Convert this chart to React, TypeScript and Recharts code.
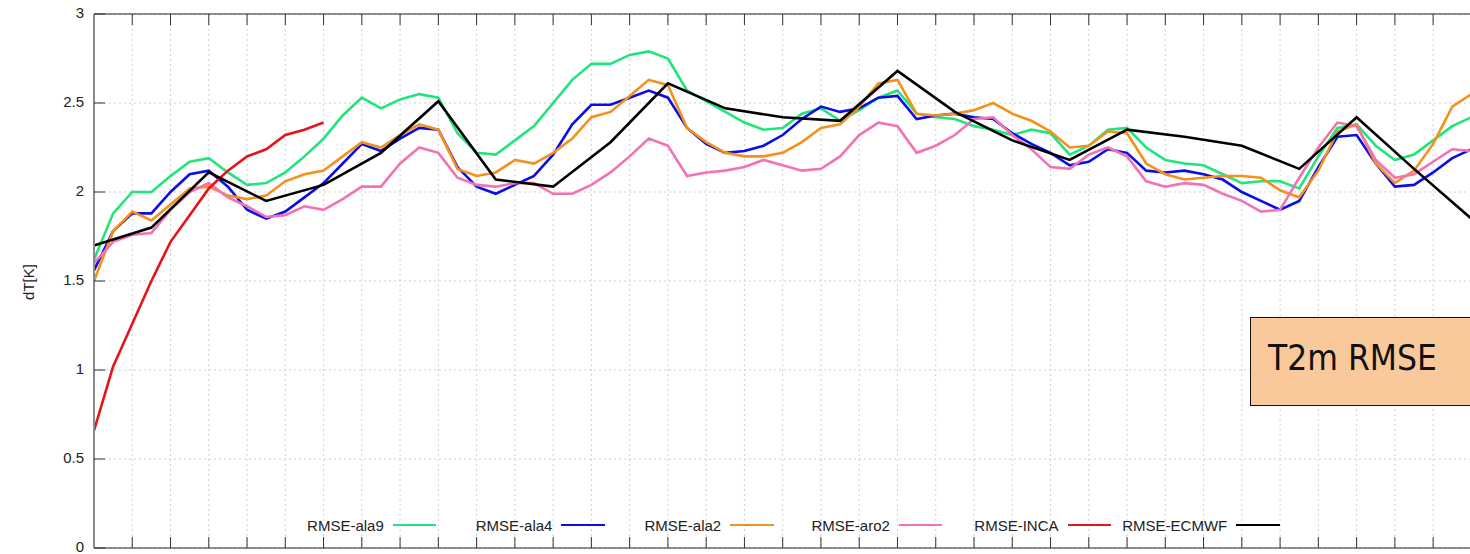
import { LineChart, Line, XAxis, YAxis, CartesianGrid } from "recharts";

// forecast lead time in hours (x categories, labels not shown in the picture)
const hours = [
  0, 1, 2, 3, 4, 5, 6, 7, 8, 9, 10, 11, 12, 13, 14, 15, 16, 17, 18, 19, 20, 21, 22, 23, 24,
  25, 26, 27, 28, 29, 30, 31, 32, 33, 34, 35, 36, 37, 38, 39, 40, 41, 42, 43, 44, 45, 46, 47, 48,
  49, 50, 51, 52, 53, 54, 55, 56, 57, 58, 59, 60, 61, 62, 63, 64, 65, 66, 67, 68, 69, 70, 71, 72,
];

const yTicks = [0, 0.5, 1, 1.5, 2, 2.5, 3];

// hourly RMSE values
const ala9 = [
  1.62, 1.88, 2.0, 2.0, 2.09, 2.17, 2.19, 2.11, 2.04, 2.05, 2.11, 2.2, 2.3, 2.43, 2.53, 2.47, 2.52,
  2.55, 2.53, 2.33, 2.22, 2.21, 2.29, 2.37, 2.5, 2.63, 2.72, 2.72, 2.77, 2.79, 2.75, 2.57, 2.51,
  2.45, 2.39, 2.35, 2.36, 2.44, 2.47, 2.4, 2.46, 2.53, 2.57, 2.44, 2.42, 2.41, 2.37, 2.35, 2.32,
  2.35, 2.33, 2.21, 2.26, 2.35, 2.36, 2.25, 2.18, 2.16, 2.15, 2.1, 2.05, 2.06, 2.06, 2.02, 2.2,
  2.36, 2.38, 2.26, 2.18, 2.21, 2.29, 2.37, 2.42,
];

const ala4 = [
  1.56, 1.78, 1.88, 1.88, 2.0, 2.1, 2.12, 2.03, 1.9, 1.85, 1.89, 1.97, 2.05, 2.16, 2.27, 2.23, 2.3,
  2.36, 2.35, 2.14, 2.03, 1.99, 2.04, 2.09, 2.21, 2.38, 2.49, 2.49, 2.53, 2.57, 2.53, 2.36, 2.27,
  2.22, 2.23, 2.26, 2.32, 2.41, 2.48, 2.45, 2.47, 2.53, 2.54, 2.41, 2.43, 2.44, 2.42, 2.41, 2.33,
  2.27, 2.22, 2.15, 2.17, 2.24, 2.22, 2.12, 2.11, 2.12, 2.1, 2.07, 2.0, 1.95, 1.9, 1.95, 2.14,
  2.31, 2.32, 2.16, 2.03, 2.04, 2.11, 2.19, 2.24,
];

const ala2 = [
  1.5, 1.78, 1.89, 1.84, 1.93, 2.02, 2.03, 1.98, 1.96, 1.98, 2.06, 2.1, 2.12, 2.2, 2.28, 2.25, 2.32,
  2.38, 2.35, 2.13, 2.09, 2.11, 2.18, 2.16, 2.22, 2.3, 2.42, 2.45, 2.54, 2.63, 2.6, 2.36, 2.28,
  2.22, 2.2, 2.2, 2.22, 2.28, 2.36, 2.38, 2.48, 2.61, 2.63, 2.44, 2.43, 2.44, 2.46, 2.5, 2.44,
  2.4, 2.34, 2.25, 2.26, 2.34, 2.33, 2.16, 2.1, 2.07, 2.08, 2.09, 2.09, 2.08, 2.01, 1.97, 2.12,
  2.34, 2.38, 2.16, 2.05, 2.12, 2.27, 2.48, 2.55,
];

const aro2 = [
  1.6, 1.72, 1.76, 1.77, 1.9, 2.0, 2.05, 1.97, 1.92, 1.86, 1.87, 1.92, 1.9, 1.96, 2.03, 2.03, 2.16,
  2.25, 2.22, 2.08, 2.04, 2.03, 2.05, 2.05, 1.99, 1.99, 2.04, 2.11, 2.2, 2.3, 2.26, 2.09, 2.11,
  2.12, 2.14, 2.18, 2.15, 2.12, 2.13, 2.2, 2.32, 2.39, 2.37, 2.22, 2.26, 2.32, 2.41, 2.42, 2.32,
  2.24, 2.14, 2.13, 2.21, 2.25, 2.2, 2.06, 2.03, 2.05, 2.04, 1.99, 1.95, 1.89, 1.9, 2.08, 2.25,
  2.39, 2.37, 2.18, 2.08, 2.1, 2.17, 2.24, 2.23,
];

// INCA nowcast, first 12 hours only
const inca = [0.66, 1.02, 1.26, 1.5, 1.72, 1.87, 2.02, 2.12, 2.2, 2.24, 2.32, 2.35, 2.39];

// ECMWF, 3-hourly (0, 3, 6, ... 72)
const ecmwf = [
  1.7, 1.8, 2.11, 1.95, 2.04, 2.22, 2.51, 2.07, 2.03, 2.28, 2.61, 2.47, 2.42, 2.4, 2.68, 2.45,
  2.29, 2.18, 2.35, 2.31, 2.26, 2.13, 2.42, 2.13, 1.85,
];

const series = [
  { key: "ala9", name: "RMSE-ala9", color: "#1fe57c" },
  { key: "ala4", name: "RMSE-ala4", color: "#0c0ce6" },
  { key: "ala2", name: "RMSE-ala2", color: "#f4901c" },
  { key: "aro2", name: "RMSE-aro2", color: "#f272b4" },
  { key: "inca", name: "RMSE-INCA", color: "#e5141b" },
  { key: "ecmwf", name: "RMSE-ECMWF", color: "#000000" },
];

const data = hours.map((h, i) => ({
  hour: h,
  ala9: ala9[i],
  ala4: ala4[i],
  ala2: ala2[i],
  aro2: aro2[i],
  inca: i < inca.length ? inca[i] : null,
  ecmwf: h % 3 === 0 ? ecmwf[h / 3] : null,
}));

const FONT = "'Liberation Sans', Arial, Helvetica, sans-serif";

// x labels are not visible in the picture, only the inward tick marks
const NoLabel = () => <g />;

const LeftTick = (props: any) => {
  const { x, y, payload } = props;
  return (
    <g>
      <text x={x} y={y} dy={4} textAnchor="end" fontSize={15} fill="#222" fontFamily={FONT}>
        {payload.value}
      </text>
      <line x1={x + 10} x2={x + 21} y1={y} y2={y} stroke="#333" strokeWidth={1} />
    </g>
  );
};

const YLabel = () => (
  <text
    x={28}
    y={282}
    transform="rotate(-90 28 282)"
    textAnchor="middle"
    dominantBaseline="central"
    fontSize={15}
    fill="#222"
    fontFamily={FONT}
  >
    dT[K]
  </text>
);

export default function App() {
  return (
    <div
      style={{
        position: "absolute",
        left: 0,
        top: 0,
        width: 1470,
        height: 554,
        overflow: "hidden",
        background: "#fff",
      }}
    >
      <LineChart width={1480} height={554} data={data} margin={{ top: 14, right: 8.6, bottom: 6, left: 0 }}>
        <CartesianGrid stroke="#cfcfcf" strokeDasharray="2 3" />
        <XAxis
          dataKey="hour"
          interval={1}
          mirror
          tick={NoLabel}
          tickSize={11}
          axisLine={{ stroke: "#222" }}
          tickLine={{ stroke: "#333" }}
        />
        <XAxis
          xAxisId="top"
          dataKey="hour"
          orientation="top"
          interval={1}
          mirror
          tick={NoLabel}
          tickSize={11}
          axisLine={{ stroke: "#222" }}
          tickLine={{ stroke: "#333" }}
        />
        <YAxis
          type="number"
          domain={[0, 3]}
          ticks={yTicks}
          interval={0}
          width={94}
          tickSize={0}
          tickMargin={10}
          tickLine={false}
          tick={<LeftTick />}
          axisLine={{ stroke: "#8a8a8a", strokeWidth: 2 }}
          label={{ content: () => <YLabel /> }}
        />
        <YAxis
          yAxisId="right"
          orientation="right"
          type="number"
          domain={[0, 3]}
          ticks={yTicks}
          interval={0}
          mirror
          tick={NoLabel}
          tickSize={11}
          axisLine={{ stroke: "#8a8a8a" }}
          tickLine={{ stroke: "#333" }}
        />
        {series.map((s) => (
          <Line
            key={s.key}
            type="linear"
            dataKey={s.key}
            name={s.name}
            stroke={s.color}
            strokeWidth={2.6}
            dot={false}
            connectNulls={s.key === "ecmwf"}
            isAnimationActive={false}
          />
        ))}
      </LineChart>

      {/* legend, gnuplot style: label then line sample */}
      <div
        style={{
          position: "absolute",
          left: 267.6,
          top: 515,
          display: "flex",
          fontFamily: FONT,
          fontSize: 15,
          color: "#222",
        }}
      >
        {series.map((s) => (
          <div key={s.key} style={{ width: 168.7, display: "flex", alignItems: "center", height: 20 }}>
            <span style={{ width: 116.2, textAlign: "right", whiteSpace: "nowrap" }}>{s.name}</span>
            <span style={{ width: 9 }} />
            <span style={{ width: 43.5, height: 2.6, background: s.color }} />
          </div>
        ))}
      </div>

      {/* annotation box */}
      <div
        style={{
          position: "absolute",
          left: 1250,
          top: 317,
          width: 216,
          height: 87,
          border: "1.5px solid #111",
          background: "#f9c99c",
          fontFamily: "'DejaVu Sans Condensed', 'DejaVu Sans', sans-serif",
          fontSize: 35,
          color: "#111",
          display: "flex",
          alignItems: "center",
          paddingLeft: 17,
          boxSizing: "content-box",
        }}
      >
        <span style={{ marginTop: -8 }}>T2m RMSE</span>
      </div>
    </div>
  );
}
